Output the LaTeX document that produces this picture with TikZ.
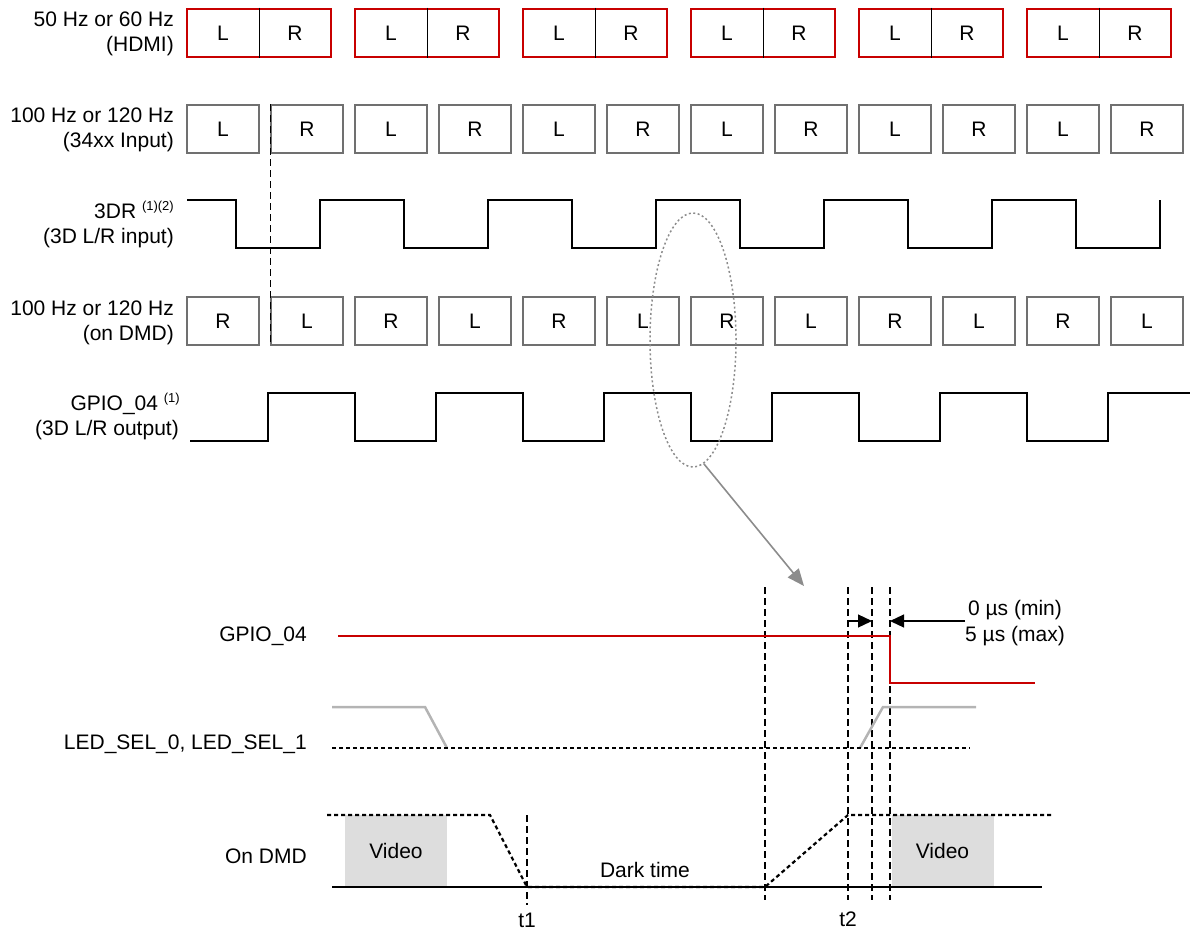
\documentclass[tikz,border=0pt]{standalone}
\usepackage{fontspec}
\setmainfont{Liberation Sans}
\usetikzlibrary{arrows.meta,shapes.geometric,calc}
\definecolor{boxgray}{HTML}{707070}
\definecolor{tired}{HTML}{C80000}
\definecolor{ledgray}{HTML}{B4B4B4}
\definecolor{videofill}{HTML}{DDDDDD}
\definecolor{ellgray}{HTML}{8C8C8C}
\newcommand\supnote[1]{\raisebox{8pt}{\fontsize{13}{13}\selectfont #1}}
\begin{document}
\begin{tikzpicture}[x=1pt,y=-1pt,
  every node/.style={font=\fontsize{21}{25}\selectfont, inner sep=0pt},
  framebox/.style={draw=boxgray, line width=1.2pt, minimum width=72pt, minimum height=48pt},
  hdmibox/.style={draw=tired, line width=2.5pt, minimum width=144pt, minimum height=48pt},
  wave/.style={line width=2.5pt, line join=miter},
  guide/.style={dash pattern=on 7pt off 4pt, line width=1.2pt},
  dots/.style={dash pattern=on 4pt off 3pt, line width=2.2pt},
  lbl/.style={anchor=base east},
  videobox/.style={fill=videofill, minimum width=102pt, minimum height=72pt},
  dimarrow/.style={line width=1.2pt, -{Triangle[length=14pt,width=13pt]}}
]
\useasboundingbox (0,0) rectangle (1191,931);

% ---------- left labels (upper part)
\node[lbl] (l1a) at (174,27) {50 Hz or 60 Hz};
\node[lbl] (l1b) at (174,52) {(HDMI)};
\node[lbl] (l2a) at (174,123) {100 Hz or 120 Hz};
\node[lbl] (l2b) at (174,148) {(34xx Input)};
\node[lbl] (l3a) at (174,218) {3DR \supnote{(1)(2)}};
\node[lbl] (l3b) at (174,243) {(3D L/R input)};
\node[lbl] (l4a) at (174,315) {100 Hz or 120 Hz};
\node[lbl] (l4b) at (174,340) {(on DMD)};
\node[lbl] (l5a) at (180,410) {GPIO\_04 \supnote{(1)}};
\node[lbl] (l5b) at (179,435) {(3D L/R output)};

% ---------- HDMI frames
\foreach \i in {0,...,5} {
  \node[hdmibox] (h\i) at (259+168*\i,33) {};
  \draw[line width=0.8pt] (h\i.north) -- (h\i.south);
  \node (hl\i) at ($(h\i.center)+(-36,0)$) {L};
  \node (hr\i) at ($(h\i.center)+(36,0)$) {R};
}

% ---------- 34xx input frames
\foreach \i/\t in {0/L,1/R,2/L,3/R,4/L,5/R,6/L,7/R,8/L,9/R,10/L,11/R} {
  \node[framebox] (in\i) at (223+84*\i,129) {\t};
}

% ---------- DMD frames
\foreach \i/\t in {0/R,1/L,2/R,3/L,4/R,5/L,6/R,7/L,8/R,9/L,10/R,11/L} {
  \node[framebox] (dm\i) at (223+84*\i,321) {\t};
}

% dashed alignment line
\draw[guide] (in1.north west) -- (dm1.south west);

% ---------- 3DR waveform
\draw[wave] (187,200) -- (236,200) -- (236,248) -- (320,248) -- (320,200)
  -- (404,200) -- (404,248) -- (488,248) -- (488,200)
  -- (572,200) -- (572,248) -- (656,248) -- (656,200)
  -- (740,200) -- (740,248) -- (824,248) -- (824,200)
  -- (908,200) -- (908,248) -- (992,248) -- (992,200)
  -- (1076,200) -- (1076,248) -- (1160,248) -- (1160,200);

% ---------- GPIO_04 waveform
\draw[wave] (190,441) -- (268,441) -- (268,393) -- (355,393) -- (355,441)
  -- (436,441) -- (436,393) -- (523,393) -- (523,441)
  -- (604,441) -- (604,393) -- (691,393) -- (691,441)
  -- (772,441) -- (772,393) -- (859,393) -- (859,441)
  -- (940,441) -- (940,393) -- (1027,393) -- (1027,441)
  -- (1108,441) -- (1108,393) -- (1190,393);

% ---------- zoom ellipse and arrow
\node[ellipse, draw=ellgray, line width=1.5pt, dash pattern=on 2pt off 2.5pt,
      minimum width=86pt, minimum height=254pt] (ell) at (693,340) {};
\coordinate (zoomtip) at (804,586);
\draw[ellgray, line width=1.6pt, -{Triangle[length=17pt,width=14pt]}] (ell.-85) -- (zoomtip);

% ---------- lower labels
\node[lbl] (g1) at (307,641) {GPIO\_04};
\node[lbl] (g2) at (307,749) {LED\_SEL\_0, LED\_SEL\_1};
\node[lbl] (g3) at (307,863) {On DMD};

% video boxes
\node[videobox] (v1) at (396,851) {Video};
\node[videobox] (v2) at (942.5,851) {Video};
\node[anchor=base] (dark) at (645,877) {Dark time};

% vertical guides
\foreach \x in {765,848,872,890} { \draw[guide] (\x,587) -- (\x,900); }
\draw[guide] (527,815) -- (527,905);
\node[anchor=base] (t1) at (527,927) {t1};
\node[anchor=base] (t2) at (848,926) {t2};

% GPIO_04 detail
\draw[wave, tired] (338,636) -- (890,636) -- (890,683) -- (1035,683);

% LED_SEL
\draw[wave, ledgray] (332,707) -- (425,707) -- (447,748);
\draw[wave, ledgray] (860,748) -- (883,707) -- (976,707);
\draw[dots] (332,748) -- (970,748);

% On DMD
\draw[wave] (332,887) -- (1042,887);
\draw[dots] (327,815) -- (490,815) -- (527,887) -- (765,887) -- (848,815) -- (1053,815);

% timing dimension
\draw[dimarrow] (848,621) -- (872,621);
\draw[dimarrow] (965,621) -- (890,621);
\node[anchor=base] (tmin) at (1015,615) {0 µs (min)};
\node[anchor=base] (tmax) at (1015,641) {5 µs (max)};
\end{tikzpicture}
\end{document}
